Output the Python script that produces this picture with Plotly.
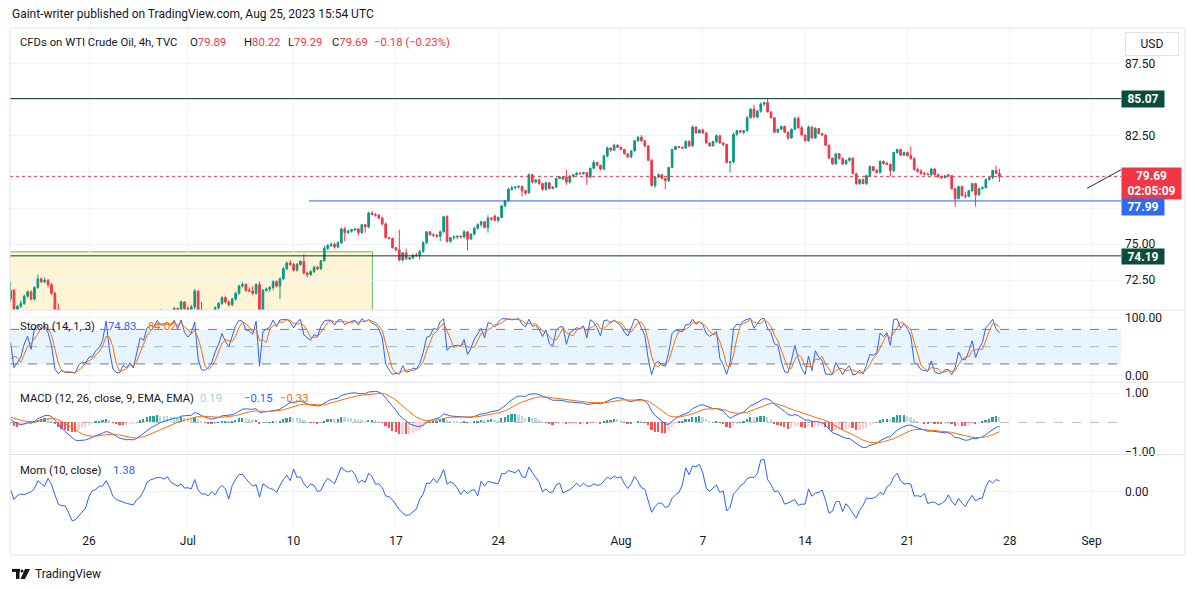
import numpy as np
import pandas as pd
import plotly.graph_objects as go

W, H = 1195, 589          # reference picture size (all geometry below is in these pixels)
FIG_H = 595               # page height that the photographed window maps onto 589 px

# ---------------- data (4h bars, TVC WTI CFD) ----------------
bar_index = list(range(-23, 268))
opens = [
    71.20, 71.80, 70.50, 70.70, 70.90, 71.40, 71.70, 71.20, 72.00, 72.60,
    72.40, 72.50, 72.20, 71.60, 70.50, 69.80, 69.90, 69.40, 69.30, 68.90,
    68.80, 69.40, 69.60, 69.50, 69.90, 69.90, 70.20, 70.10, 70.00, 70.30,
    69.40, 68.80, 68.60, 68.30, 68.50, 68.40, 68.60, 68.40, 69.00, 69.60,
    69.50, 70.00, 70.10, 70.00, 70.30, 70.20, 70.20, 70.30, 70.20, 70.55,
    70.20, 71.00, 70.55, 70.50, 70.65, 71.75, 70.40, 70.00, 69.90, 70.00,
    70.20, 70.60, 70.90, 71.30, 71.00, 70.80, 71.20, 71.60, 72.10, 72.20,
    71.80, 71.75, 71.60, 72.20, 70.30, 71.80, 71.90, 72.00, 72.40, 72.10,
    72.60, 73.30, 73.70, 73.60, 73.20, 73.60, 73.80, 73.00, 72.90, 73.10,
    73.40, 73.30, 73.85, 74.70, 74.90, 75.00, 74.80, 75.10, 76.05, 75.80,
    75.90, 76.00, 76.05, 75.80, 76.35, 76.20, 77.15, 77.05, 77.00, 76.80,
    76.40, 75.45, 75.40, 74.75, 74.60, 73.90, 74.40, 74.00, 74.05, 74.25,
    74.20, 74.50, 75.10, 75.85, 75.65, 75.60, 75.55, 75.85, 76.90, 75.20,
    75.45, 75.50, 75.55, 75.50, 75.85, 75.35, 75.70, 76.10, 76.35, 76.55,
    76.15, 76.80, 76.95, 76.65, 76.85, 77.65, 78.00, 78.80, 78.90, 78.95,
    79.00, 78.70, 78.55, 79.80, 79.30, 79.45, 79.20, 78.80, 79.25, 78.85,
    78.95, 79.55, 79.50, 79.65, 79.30, 79.70, 79.80, 79.90, 79.88, 79.95,
    79.65, 80.25, 80.65, 80.45, 80.20, 81.10, 81.65, 81.50, 81.85, 81.70,
    81.55, 81.25, 81.05, 81.45, 82.15, 82.40, 82.15, 81.80, 80.80, 79.05,
    79.65, 79.80, 79.55, 79.40, 80.30, 81.55, 81.75, 81.70, 81.65, 82.10,
    81.80, 83.10, 82.70, 82.90, 82.70, 82.00, 81.80, 82.10, 82.50, 82.00,
    81.90, 80.65, 80.70, 82.60, 82.85, 82.75, 82.85, 83.75, 84.35, 83.80,
    84.20, 84.70, 84.80, 84.15, 83.75, 82.75, 82.95, 83.15, 82.75, 82.35,
    82.95, 83.70, 83.05, 82.55, 82.15, 83.10, 82.35, 83.00, 82.65, 82.55,
    81.85, 80.95, 80.55, 81.25, 80.92, 80.55, 80.80, 80.95, 79.88, 79.19,
    79.47, 79.20, 79.74, 80.37, 80.09, 79.95, 80.72, 80.58, 80.51, 80.09,
    81.34, 81.55, 81.15, 81.34, 81.13, 80.92, 80.16, 80.05, 79.88, 79.85,
    79.82, 80.20, 79.80, 79.67, 79.60, 79.80, 79.74, 78.84, 78.15, 78.98,
    78.35, 78.31, 78.70, 79.19, 78.42, 78.84, 78.91, 79.47, 79.60, 80.09, 79.89,
]
highs = [
    72.40, 71.90, 70.80, 71.10, 71.50, 71.80, 71.80, 72.10, 72.90, 72.70,
    72.70, 72.60, 72.30, 71.70, 70.90, 70.20, 70.00, 69.60, 69.40, 69.10,
    69.50, 69.80, 69.70, 70.10, 70.10, 70.30, 70.30, 70.20, 70.40, 70.35,
    69.50, 68.90, 68.70, 68.60, 68.60, 68.80, 68.70, 69.10, 69.70, 69.80,
    70.10, 70.30, 70.20, 70.40, 70.50, 70.40, 70.40, 70.40, 70.65, 70.60,
    71.10, 71.05, 70.70, 70.80, 71.90, 71.80, 71.00, 70.20, 70.10, 70.30,
    70.70, 71.00, 71.40, 71.40, 71.10, 71.30, 71.70, 72.20, 72.35, 72.30,
    72.00, 72.10, 72.30, 72.40, 71.90, 72.00, 72.10, 72.50, 72.50, 72.70,
    73.40, 73.80, 73.90, 73.70, 73.70, 73.90, 74.30, 73.10, 73.20, 73.50,
    73.50, 73.90, 74.90, 75.00, 75.10, 75.10, 75.20, 76.15, 76.20, 76.00,
    76.05, 76.10, 76.10, 76.40, 76.40, 77.25, 77.30, 77.15, 77.10, 76.90,
    76.50, 75.50, 75.45, 74.80, 76.00, 74.45, 74.70, 74.10, 74.30, 74.40,
    74.60, 75.20, 75.90, 75.90, 75.75, 75.70, 75.95, 76.95, 77.00, 75.50,
    75.60, 75.60, 75.60, 75.95, 75.90, 75.75, 76.20, 76.45, 76.60, 76.60,
    77.00, 76.90, 77.05, 76.90, 77.70, 78.05, 78.90, 79.05, 79.00, 79.05,
    79.05, 78.75, 79.90, 79.85, 79.50, 79.50, 79.25, 79.30, 79.30, 79.00,
    79.60, 79.70, 79.70, 80.15, 79.75, 79.85, 80.00, 80.00, 80.00, 80.00,
    80.30, 80.80, 80.70, 80.50, 81.20, 81.75, 81.70, 81.95, 81.90, 81.75,
    81.60, 81.30, 81.50, 82.20, 82.50, 82.55, 82.20, 81.85, 80.90, 79.70,
    79.90, 79.85, 79.60, 80.35, 81.60, 81.80, 81.80, 81.75, 82.20, 82.20,
    83.20, 83.15, 82.95, 83.00, 82.75, 82.05, 82.15, 82.60, 82.55, 82.05,
    81.95, 80.75, 82.70, 82.90, 82.90, 82.90, 83.85, 84.40, 84.65, 84.30,
    84.80, 84.85, 85.07, 84.20, 83.80, 83.00, 83.20, 83.20, 82.80, 83.00,
    83.80, 83.85, 83.20, 82.60, 83.20, 83.15, 83.10, 83.05, 82.70, 82.60,
    81.90, 81.00, 81.30, 81.30, 81.00, 80.85, 81.00, 81.00, 79.95, 79.50,
    79.55, 79.80, 80.45, 80.40, 80.20, 80.80, 80.80, 80.70, 80.60, 81.40,
    81.60, 81.60, 81.40, 81.40, 81.76, 81.00, 80.30, 80.20, 80.00, 79.95,
    80.25, 80.25, 79.90, 79.75, 79.80, 79.85, 79.80, 78.90, 79.05, 79.05,
    78.60, 78.75, 79.25, 79.25, 78.90, 79.00, 79.55, 79.65, 80.15, 80.44, 80.22,
]
lows = [
    71.00, 70.20, 70.30, 70.60, 70.80, 71.30, 71.10, 71.10, 71.90, 72.30,
    72.30, 72.00, 71.50, 70.20, 69.70, 69.60, 69.20, 69.10, 68.70, 68.60,
    68.70, 69.30, 69.30, 69.40, 69.70, 69.80, 70.00, 69.90, 69.90, 69.30,
    68.70, 68.50, 68.20, 68.10, 68.30, 68.30, 68.30, 68.30, 68.90, 69.30,
    69.40, 69.80, 69.80, 69.90, 70.10, 70.00, 70.10, 70.00, 70.10, 70.10,
    70.10, 70.40, 70.40, 70.45, 70.50, 70.30, 69.80, 69.70, 69.70, 69.80,
    70.10, 70.50, 70.80, 70.90, 70.70, 70.70, 71.10, 71.50, 72.00, 71.70,
    71.70, 71.50, 71.50, 69.90, 70.20, 71.70, 71.70, 71.80, 72.00, 71.20,
    72.50, 73.20, 73.50, 73.10, 73.10, 73.50, 72.90, 72.70, 72.80, 73.00,
    73.20, 73.20, 73.80, 74.60, 74.80, 74.70, 74.70, 75.00, 75.20, 75.70,
    75.80, 75.90, 75.60, 75.70, 75.80, 76.10, 77.00, 76.90, 76.75, 76.30,
    75.40, 75.30, 74.70, 74.50, 73.80, 73.80, 73.90, 73.90, 74.00, 74.15,
    73.95, 74.40, 75.00, 75.60, 75.50, 75.45, 75.20, 75.80, 75.10, 75.10,
    75.30, 75.35, 75.40, 75.40, 74.55, 75.30, 75.60, 76.00, 76.20, 76.10,
    75.80, 76.60, 76.60, 76.50, 76.80, 77.55, 77.95, 78.70, 78.80, 78.85,
    78.30, 78.40, 78.50, 79.20, 79.20, 79.10, 78.70, 78.70, 78.80, 78.80,
    78.90, 79.50, 79.45, 79.10, 79.20, 79.60, 79.75, 79.80, 79.80, 79.10,
    79.55, 80.20, 80.40, 80.10, 80.10, 81.00, 81.40, 81.45, 81.65, 81.50,
    81.20, 80.95, 80.95, 81.40, 82.10, 82.10, 81.70, 80.75, 79.00, 78.90,
    79.55, 79.50, 78.80, 79.30, 80.25, 81.50, 81.65, 81.60, 81.60, 81.70,
    81.75, 82.65, 82.65, 82.65, 81.95, 81.75, 81.75, 82.00, 81.95, 81.80,
    80.60, 79.95, 80.60, 82.50, 82.70, 82.60, 82.80, 83.70, 83.70, 83.70,
    84.10, 84.55, 84.10, 83.70, 82.70, 82.70, 82.90, 82.70, 82.20, 82.30,
    82.90, 83.00, 82.50, 82.10, 82.10, 82.30, 82.30, 82.60, 82.50, 81.80,
    80.90, 80.50, 80.50, 80.85, 80.50, 80.50, 80.70, 79.85, 79.10, 79.10,
    79.15, 79.10, 79.70, 80.05, 79.90, 79.90, 80.50, 80.45, 79.67, 80.00,
    81.25, 81.10, 81.10, 81.05, 80.85, 80.10, 79.95, 79.80, 79.75, 79.75,
    79.70, 79.75, 79.60, 79.50, 79.55, 79.65, 78.80, 77.59, 78.10, 78.30,
    78.15, 78.25, 78.60, 77.59, 78.35, 78.80, 78.85, 79.40, 79.50, 79.85, 79.29,
]
closes = [
    71.80, 70.50, 70.70, 70.90, 71.40, 71.70, 71.20, 72.00, 72.60, 72.40,
    72.50, 72.20, 71.60, 70.50, 69.80, 69.90, 69.40, 69.30, 68.90, 68.80,
    69.40, 69.60, 69.50, 69.90, 69.90, 70.20, 70.10, 70.00, 70.30, 69.40,
    68.80, 68.60, 68.30, 68.50, 68.40, 68.60, 68.40, 69.00, 69.60, 69.50,
    70.00, 70.10, 70.00, 70.30, 70.20, 70.20, 70.30, 70.20, 70.55, 70.20,
    71.00, 70.55, 70.50, 70.65, 71.75, 70.40, 70.00, 69.90, 70.00, 70.20,
    70.60, 70.90, 71.30, 71.00, 70.80, 71.20, 71.60, 72.10, 72.20, 71.80,
    71.75, 71.60, 72.20, 70.30, 71.80, 71.90, 72.00, 72.40, 72.10, 72.60,
    73.30, 73.70, 73.60, 73.20, 73.60, 73.80, 73.00, 72.90, 73.10, 73.40,
    73.30, 73.85, 74.70, 74.90, 75.00, 74.80, 75.10, 76.05, 75.80, 75.90,
    76.00, 76.05, 75.80, 76.35, 76.20, 77.15, 77.05, 77.00, 76.80, 76.40,
    75.45, 75.40, 74.75, 74.60, 73.90, 74.40, 74.00, 74.05, 74.25, 74.20,
    74.50, 75.10, 75.85, 75.65, 75.60, 75.55, 75.85, 76.90, 75.20, 75.45,
    75.50, 75.55, 75.50, 75.85, 75.35, 75.70, 76.10, 76.35, 76.55, 76.15,
    76.80, 76.75, 76.65, 76.85, 77.65, 78.00, 78.80, 78.90, 78.95, 79.00,
    78.70, 78.55, 79.80, 79.30, 79.45, 79.20, 78.80, 79.25, 78.85, 78.95,
    79.55, 79.65, 79.65, 79.30, 79.70, 79.80, 79.90, 79.88, 79.95, 79.65,
    80.25, 80.65, 80.45, 80.20, 81.10, 81.65, 81.50, 81.85, 81.70, 81.55,
    81.25, 81.05, 81.45, 82.15, 82.40, 82.15, 81.80, 80.80, 79.05, 79.65,
    79.80, 79.55, 79.40, 80.30, 81.55, 81.75, 81.70, 81.65, 82.10, 81.80,
    83.10, 82.70, 82.90, 82.70, 82.00, 81.80, 82.10, 82.50, 82.00, 81.90,
    80.65, 80.70, 82.60, 82.85, 82.75, 82.85, 83.75, 84.35, 83.80, 84.20,
    84.70, 84.80, 84.15, 83.75, 82.75, 82.95, 83.15, 82.75, 82.35, 82.95,
    83.70, 83.05, 82.55, 82.15, 83.10, 82.35, 83.00, 82.65, 82.55, 81.85,
    80.95, 80.55, 81.25, 80.92, 80.55, 80.80, 80.95, 79.88, 79.19, 79.47,
    79.20, 79.74, 80.37, 80.09, 79.95, 80.72, 80.58, 80.51, 80.09, 81.34,
    81.55, 81.15, 81.34, 81.13, 80.92, 80.16, 80.05, 79.88, 79.85, 79.82,
    80.20, 79.80, 79.67, 79.60, 79.72, 79.74, 78.84, 78.15, 78.98, 78.35,
    78.31, 78.70, 79.19, 78.42, 78.84, 78.91, 79.47, 79.60, 80.09, 79.89, 79.69,
]
# closes of the 10 bars just left of the visible window (for Mom/Stoch warm-up)
pre_closes = [71.6, 71.5, 71.2, 71.2, 71.8, 71.9, 71.2, 71.6, 71.2, 71.4]
macd_seed_fast, macd_seed_slow, signal_seed = 0.25, -0.20, 0.40

tick_bars = [0, 29, 60, 90, 120, 156, 180, 210, 240, 270, 294]
tick_text = ['26', 'Jul', '10', '17', '24', 'Aug', '7', '14', '21', '28', 'Sep']
price_ticks = [72.5, 75, 77.5, 80, 82.5, 85, 87.5]
price_tick_text = ['72.50', '75.00', '', '', '82.50', '', '87.50']  # others hidden behind price tags

level_res = 85.07
level_mid = 77.99
level_sup = 74.19
last_price = 79.69
zone_top = 74.47
zone_end_bar = 83.1
line_mid_start_bar = 64.5
trend_bars = [292.7, 303.5]
trend_prices = [78.86, 80.26]

legend_stoch = ('74.83', '84.02')
legend_macd = ('0.19', '\u22120.15', '\u22120.33')
legend_mom = '1.38'

# ---------------- indicators ----------------
n_pre = len(pre_closes)
c_all = np.array(pre_closes + closes, float)
h_all = np.array(pre_closes + highs, float)
l_all = np.array(pre_closes + lows, float)


def ema(arr, n, seed):
    a = 2.0 / (n + 1)
    out = np.empty_like(arr)
    prev = seed
    for i, v in enumerate(arr):
        prev = a * v + (1 - a) * prev
        out[i] = prev
    return out


ema12 = ema(c_all, 12, c_all[0] + macd_seed_fast)
ema26 = ema(c_all, 26, c_all[0] + macd_seed_slow)
macd = ema12 - ema26
signal = ema(macd, 9, signal_seed)
hist = macd - signal

k = np.empty(len(c_all))
for i in range(len(c_all)):
    lo = l_all[max(0, i - 13):i + 1].min()
    hi = h_all[max(0, i - 13):i + 1].max()
    k[i] = 100 * (c_all[i] - lo) / (hi - lo) if hi > lo else 50
d = pd.Series(k).rolling(3, min_periods=1).mean().values

mom = np.full(len(c_all), np.nan)
mom[10:] = c_all[10:] - c_all[:-10]

sl = slice(n_pre, None)
k, d, macd, signal, hist, mom = k[sl], d[sl], macd[sl], signal[sl], hist[sl], mom[sl]

hist_colors = []
for j in range(len(hist)):
    prev = hist[j - 1] if j > 0 else hist[j]
    if hist[j] >= 0:
        hist_colors.append('#26A69A' if hist[j] >= prev else '#B2DFDB')
    else:
        hist_colors.append('#FFCDD2' if hist[j] > prev else '#FF5252')

# ---------------- layout geometry ----------------
def px(x):
    return x / W


def py(y):
    return 1 - y / H


x_dom = [px(10), px(1121)]
x_range = [-23.17, 302.64]
dom_main = [py(309), py(28)]
dom_stoch = [py(381), py(309)]
dom_macd = [py(453), py(381)]
dom_mom = [py(526), py(453)]

BLUE = '#2962FF'
ORANGE = '#FF6D00'
UP = '#089981'
DOWN = '#F23645'
TXT = '#131722'
GRID = '#F0F3FA'
FONT = 'Roboto, Arial, sans-serif'
LEG = 11.3

fig = go.Figure()
fig.add_trace(go.Candlestick(
    x=bar_index, open=opens, high=highs, low=lows, close=closes,
    increasing=dict(line=dict(color=UP, width=1), fillcolor=UP),
    decreasing=dict(line=dict(color=DOWN, width=1), fillcolor=DOWN),
    whiskerwidth=0, xaxis='x', yaxis='y', hoverinfo='skip'))
fig.add_trace(go.Scatter(x=bar_index, y=k, mode='lines', line=dict(color=BLUE, width=1),
                         xaxis='x2', yaxis='y2', hoverinfo='skip'))
fig.add_trace(go.Scatter(x=bar_index, y=d, mode='lines', line=dict(color=ORANGE, width=1),
                         xaxis='x2', yaxis='y2', hoverinfo='skip'))
fig.add_trace(go.Bar(x=bar_index, y=hist, marker=dict(color=hist_colors, line=dict(width=0)),
                     width=0.5, xaxis='x3', yaxis='y3', hoverinfo='skip'))
fig.add_trace(go.Scatter(x=bar_index, y=macd, mode='lines', line=dict(color=BLUE, width=1),
                         xaxis='x3', yaxis='y3', hoverinfo='skip'))
fig.add_trace(go.Scatter(x=bar_index, y=signal, mode='lines', line=dict(color=ORANGE, width=1),
                         xaxis='x3', yaxis='y3', hoverinfo='skip'))
fig.add_trace(go.Scatter(x=bar_index, y=mom, mode='lines', line=dict(color=BLUE, width=1),
                         xaxis='x4', yaxis='y4', hoverinfo='skip'))

xcommon = dict(range=x_range, domain=x_dom, tickvals=tick_bars, ticktext=tick_text,
               showgrid=True, gridcolor=GRID, gridwidth=1, zeroline=False, showline=False,
               fixedrange=True)
ycommon = dict(side='right', showgrid=True, gridcolor=GRID, zeroline=False, showline=False,
               ticks='', ticklabelstandoff=3, tickfont=dict(family=FONT, size=12, color=TXT),
               fixedrange=True)

layout = dict(
    width=W, height=FIG_H, autosize=False, margin=dict(l=0, r=0, t=0, b=0, pad=0),
    paper_bgcolor='white', plot_bgcolor='white', showlegend=False, hovermode=False,
    bargap=0,
    xaxis=dict(**xcommon, anchor='y', showticklabels=False, rangeslider=dict(visible=False)),
    xaxis2=dict(**xcommon, anchor='y2', matches='x', showticklabels=False),
    xaxis3=dict(**xcommon, anchor='y3', matches='x', showticklabels=False),
    xaxis4=dict(**xcommon, anchor='y4', matches='x', showticklabels=True,
                tickfont=dict(family=FONT, size=12, color=TXT), ticks='', ticklabelstandoff=4),
    yaxis=dict(**ycommon, domain=dom_main, anchor='x', range=[70.44, 89.95],
               tickvals=price_ticks, ticktext=price_tick_text),
    yaxis2=dict(**ycommon, domain=dom_stoch, anchor='x2', range=[-11.9, 113.6],
                tickvals=[0, 100], ticktext=['0.00', '100.00']),
    yaxis3=dict(**ycommon, domain=dom_macd, anchor='x3', range=[-1.092, 1.365],
                tickvals=[-1, 1], ticktext=['\u22121.00', '1.00']),
    yaxis4=dict(**ycommon, domain=dom_mom, anchor='x4', range=[-4.62, 4.74],
                tickvals=[0], ticktext=['0.00']),
)
fig.update_layout(**layout)

shapes = []
# demand zone
shapes.append(dict(type='rect', xref='x', yref='y', x0=-60, x1=zone_end_bar, y0=60, y1=zone_top,
                   fillcolor='rgba(255,236,179,0.55)', line=dict(color='#66BB6A', width=1), layer='below'))
# horizontal levels
shapes.append(dict(type='line', xref='x domain', yref='y', x0=0, x1=1, y0=level_res, y1=level_res,
                   line=dict(color='#0B3B2E', width=1)))
shapes.append(dict(type='line', xref='x domain', yref='y', x0=0, x1=1, y0=level_sup, y1=level_sup,
                   line=dict(color='#0B3B2E', width=1)))
shapes.append(dict(type='line', xref='x', yref='y', x0=line_mid_start_bar, x1=x_range[1],
                   y0=level_mid, y1=level_mid, line=dict(color=BLUE, width=1)))
shapes.append(dict(type='line', xref='x domain', yref='y', x0=0, x1=1, y0=last_price, y1=last_price,
                   line=dict(color=DOWN, width=1, dash='dot')))
shapes.append(dict(type='line', xref='x', yref='y', x0=trend_bars[0], x1=trend_bars[1],
                   y0=trend_prices[0], y1=trend_prices[1], line=dict(color='#2A2E39', width=1)))
# stoch band
shapes.append(dict(type='rect', xref='x2 domain', yref='y2', x0=0, x1=1, y0=20, y1=80,
                   fillcolor='rgba(33,150,243,0.1)', line=dict(width=0), layer='below'))
for lv, col in [(80, '#787B86'), (50, 'rgba(120,123,134,0.5)'), (20, '#787B86')]:
    shapes.append(dict(type='line', xref='x2 domain', yref='y2', x0=0, x1=1, y0=lv, y1=lv,
                       line=dict(color=col, width=1, dash='dash')))
shapes.append(dict(type='line', xref='x3 domain', yref='y3', x0=0, x1=1, y0=0, y1=0,
                   line=dict(color='rgba(120,123,134,0.5)', width=1, dash='dash')))
# pane separators and frame
for yy in (309, 381, 453):
    shapes.append(dict(type='line', xref='paper', yref='paper', x0=px(10), x1=px(1185),
                       y0=py(yy), y1=py(yy), line=dict(color='#E0E3EB', width=1)))
shapes.append(dict(type='rect', xref='paper', yref='paper', x0=px(10), x1=px(1185),
                   y0=py(553), y1=py(28), line=dict(color='#E0E3EB', width=1)))
# TradingView logo glyph
shapes.append(dict(type='rect', xref='paper', yref='paper', x0=px(12), x1=px(20), y0=py(570), y1=py(567),
                   fillcolor=TXT, line=dict(width=0)))
shapes.append(dict(type='rect', xref='paper', yref='paper', x0=px(16), x1=px(19.5), y0=py(577), y1=py(567),
                   fillcolor=TXT, line=dict(width=0)))
shapes.append(dict(type='circle', xref='paper', yref='paper', x0=px(20.5), x1=px(23.5), y0=py(570.5), y1=py(567.5),
                   fillcolor=TXT, line=dict(width=0)))
shapes.append(dict(type='path', xref='paper', yref='paper',
                   path=f'M {px(25)} {py(567)} L {px(30)} {py(567)} L {px(25)} {py(577)} L {px(20.5)} {py(577)} Z',
                   fillcolor=TXT, line=dict(width=0)))
fig.update_layout(shapes=shapes)

anns = []


def txt(x, y, text, size=LEG, color=TXT, xanchor='left'):
    anns.append(dict(xref='paper', yref='paper', x=px(x), y=py(y), text=text, showarrow=False,
                     xanchor=xanchor, yanchor='middle', font=dict(family=FONT, size=size, color=color)))


def red(v):
    return f'<span style="color:{DOWN}">{v}</span>'


txt(10, 14, 'Gaint-writer published on TradingView.com, Aug 25, 2023 15:54 UTC', 12)
txt(18, 42, 'CFDs on WTI Crude Oil, 4h, TVC')
txt(188, 42, 'O' + red('79.89'))
txt(242, 42, 'H' + red('80.22'))
txt(286, 42, 'L' + red('79.29'))
txt(330, 42, 'C' + red('79.69'))
txt(372, 42, red('\u22120.18 (\u22120.23%)'))
txt(18, 325, 'Stoch (14, 1, 3)')
txt(106, 325, legend_stoch[0], color=BLUE)
txt(146, 325, legend_stoch[1], color=ORANGE)
txt(18, 397, 'MACD (12, 26, close, 9, EMA, EMA)')
txt(198, 397, legend_macd[0], color='#9FD6CE')
txt(242, 397, legend_macd[1], color=BLUE)
txt(278, 397, legend_macd[2], color=ORANGE)
txt(18, 469, 'Mom (10, close)')
txt(111, 469, legend_mom, color=BLUE)
txt(33, 572, 'TradingView', 12)


def price_box(value, text, bg, width, height, yshift=0):
    anns.append(dict(xref='paper', yref='y', x=px(1121), y=value, text=text, showarrow=False,
                     xanchor='left', yanchor='middle', yshift=yshift, bgcolor=bg, borderpad=1,
                     width=width, height=height, align='center', valign='middle',
                     font=dict(family=FONT, size=12, color='white')))


price_box(level_res, f'<b>{level_res:.2f}</b>', '#0B4D3C', 40, 14)
price_box(level_sup, f'<b>{level_sup:.2f}</b>', '#0B4D3C', 40, 13, yshift=-1)
price_box(last_price, f'<b>{last_price:.2f}</b><br><b>02:05:09</b>', DOWN, 57, 29, yshift=-7)
price_box(level_mid, f'<b>{level_mid:.2f}</b>', '#2F6BF2', 40, 14, yshift=-6)

anns.append(dict(xref='paper', yref='paper', x=px(1152), y=py(43.5), text='USD', showarrow=False,
                 xanchor='center', yanchor='middle', bgcolor='white', bordercolor='#E0E3EB',
                 borderwidth=1, borderpad=4, width=44,
                 font=dict(family=FONT, size=12, color=TXT)))
fig.update_layout(annotations=anns)

fig.write_html('out.html', config={'displayModeBar': False, 'responsive': False},
               post_script="document.body.style.margin='0px';")
